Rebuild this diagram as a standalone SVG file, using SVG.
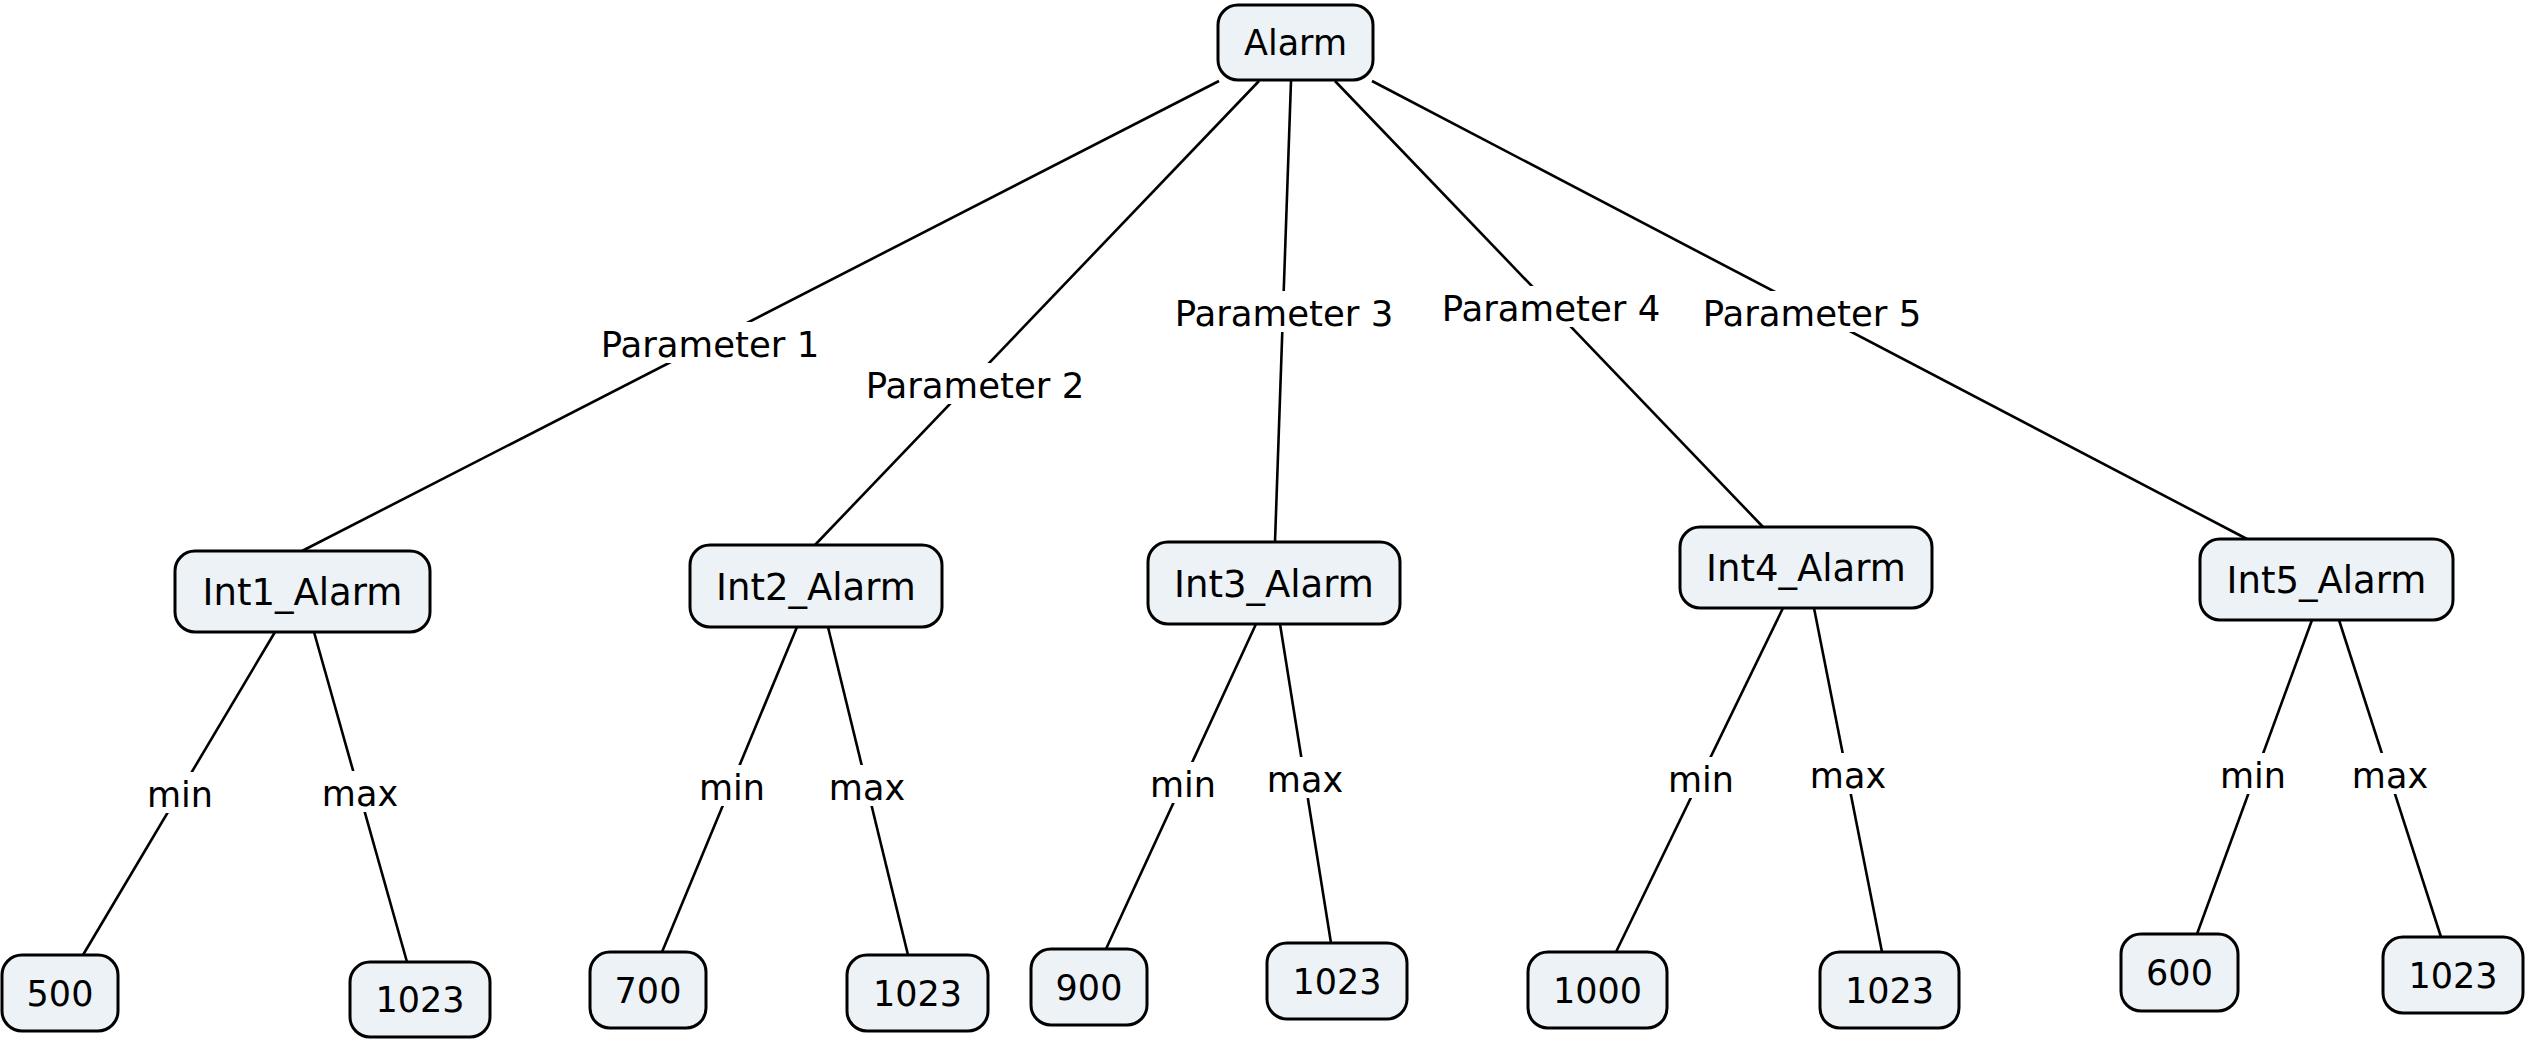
<svg xmlns="http://www.w3.org/2000/svg" width="2531" height="1042" viewBox="0 0 2531 1042">
<style>
.node rect{fill:#ecf2f5;stroke:#000;stroke-width:3}
.node text{font-family:"DejaVu Sans",Verdana,sans-serif;font-size:35px;fill:#000;text-anchor:middle}
.node text.big{font-size:37px}
.edges line{stroke:#000;stroke-width:2.6;fill:none}
.lbl{font-family:"DejaVu Sans",Verdana,sans-serif;font-size:35px;fill:#000;text-anchor:middle}
.lbl.p{font-size:35.5px}
</style>
<defs>
<mask id="gaps" maskUnits="userSpaceOnUse" x="0" y="0" width="2531" height="1042">
<rect x="0" y="0" width="2531" height="1042" fill="#fff"/>
<g fill="#000">
<rect x="594" y="322" width="232" height="41"/>
<rect x="859" y="363" width="232" height="41"/>
<rect x="1168" y="291" width="232" height="41"/>
<rect x="1435" y="286" width="232" height="41"/>
<rect x="1696" y="291" width="232" height="41"/>
<rect x="145" y="772" width="70" height="41"/>
<rect x="320" y="771" width="80" height="41"/>
<rect x="697" y="765" width="70" height="41"/>
<rect x="827" y="765" width="80" height="41"/>
<rect x="1148" y="762" width="70" height="41"/>
<rect x="1265" y="757" width="80" height="41"/>
<rect x="1666" y="757" width="70" height="41"/>
<rect x="1808" y="753" width="80" height="41"/>
<rect x="2218" y="753" width="70" height="41"/>
<rect x="2350" y="753" width="80" height="41"/>
</g>
</mask>
</defs>
<rect x="0" y="0" width="2531" height="1042" fill="#fff"/>
<g id="connectors" class="edges">
<g mask="url(#gaps)">
<line x1="1219" y1="81" x2="302" y2="551"/>
<line x1="1259" y1="81" x2="814" y2="546"/>
<line x1="1291" y1="81" x2="1275" y2="542"/>
<line x1="1335" y1="81" x2="1764" y2="528"/>
<line x1="1372" y1="81" x2="2247" y2="539"/>
<line x1="275" y1="632" x2="83" y2="955"/>
<line x1="314" y1="632" x2="407" y2="962"/>
<line x1="797" y1="627" x2="662" y2="952"/>
<line x1="828" y1="627" x2="908" y2="955"/>
<line x1="1256" y1="624" x2="1106" y2="949"/>
<line x1="1280" y1="624" x2="1331" y2="943"/>
<line x1="1783" y1="608" x2="1616" y2="952"/>
<line x1="1814" y1="608" x2="1882" y2="952"/>
<line x1="2312" y1="620" x2="2197" y2="934"/>
<line x1="2339" y1="620" x2="2441" y2="937"/>
</g>
<text class="lbl p" x="710" y="357">Parameter 1</text>
<text class="lbl p" x="975" y="398">Parameter 2</text>
<text class="lbl p" x="1284" y="326">Parameter 3</text>
<text class="lbl p" x="1551" y="321">Parameter 4</text>
<text class="lbl p" x="1812" y="326">Parameter 5</text>
<text class="lbl" x="180" y="807">min</text>
<text class="lbl" x="360" y="806">max</text>
<text class="lbl" x="732" y="800">min</text>
<text class="lbl" x="867" y="800">max</text>
<text class="lbl" x="1183" y="797">min</text>
<text class="lbl" x="1305" y="792">max</text>
<text class="lbl" x="1701" y="792">min</text>
<text class="lbl" x="1848" y="788">max</text>
<text class="lbl" x="2253" y="788">min</text>
<text class="lbl" x="2390" y="788">max</text>
</g>
<g id="alarm" class="node"><rect x="1218" y="5" width="155" height="75" rx="20"/><text x="1295.5" y="55">Alarm</text></g>
<g id="int1" class="node"><rect x="175" y="551" width="255" height="81" rx="20"/><text class="big" x="302.5" y="605">Int1_Alarm</text></g>
<g id="int2" class="node"><rect x="690" y="545" width="252" height="82" rx="20"/><text class="big" x="816" y="600">Int2_Alarm</text></g>
<g id="int3" class="node"><rect x="1148" y="542" width="252" height="82" rx="20"/><text class="big" x="1274" y="597">Int3_Alarm</text></g>
<g id="int4" class="node"><rect x="1680" y="527" width="252" height="81" rx="20"/><text class="big" x="1806" y="581">Int4_Alarm</text></g>
<g id="int5" class="node"><rect x="2200" y="539" width="253" height="81" rx="20"/><text class="big" x="2326.5" y="593">Int5_Alarm</text></g>
<g id="v500" class="node"><rect x="2" y="955" width="116" height="76" rx="20"/><text x="60" y="1006">500</text></g>
<g id="v1023a" class="node"><rect x="350" y="962" width="140" height="75" rx="20"/><text x="420" y="1012">1023</text></g>
<g id="v700" class="node"><rect x="590" y="952" width="116" height="76" rx="20"/><text x="648" y="1003">700</text></g>
<g id="v1023b" class="node"><rect x="847" y="955" width="141" height="76" rx="20"/><text x="917.5" y="1006">1023</text></g>
<g id="v900" class="node"><rect x="1031" y="949" width="116" height="76" rx="20"/><text x="1089" y="1000">900</text></g>
<g id="v1023c" class="node"><rect x="1267" y="943" width="140" height="76" rx="20"/><text x="1337" y="994">1023</text></g>
<g id="v1000" class="node"><rect x="1528" y="952" width="139" height="76" rx="20"/><text x="1597.5" y="1003">1000</text></g>
<g id="v1023d" class="node"><rect x="1820" y="952" width="139" height="76" rx="20"/><text x="1889.5" y="1003">1023</text></g>
<g id="v600" class="node"><rect x="2121" y="934" width="117" height="77" rx="20"/><text x="2179.5" y="985">600</text></g>
<g id="v1023e" class="node"><rect x="2383" y="937" width="140" height="76" rx="20"/><text x="2453" y="988">1023</text></g>
</svg>
